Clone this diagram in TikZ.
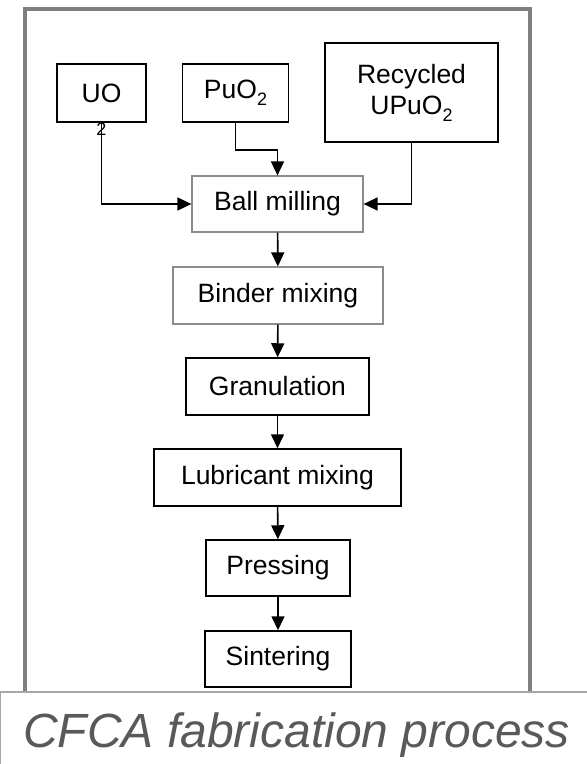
\documentclass[tikz,border=0pt]{standalone}
\usepackage{fontspec}
\setmainfont{Liberation Sans}
\usepackage{tikz}
\usetikzlibrary{arrows.meta,positioning}
\definecolor{Frame}{HTML}{808080}
\definecolor{SoftRule}{HTML}{8C8C8C}
\definecolor{CapRule}{HTML}{A6A6A6}
\definecolor{CapText}{HTML}{595959}
\newcommand{\lowtwo}{\raisebox{-7pt}{\fontsize{18}{18}\selectfont 2}}
\tikzset{
  procbox/.style={draw=black,line width=1.5pt,fill=white,inner sep=0pt,
    font=\fontsize{26.5}{31}\selectfont,align=center},
  softbox/.style={procbox,draw=SoftRule,line width=1.2pt},
  flow/.style={line width=1.6pt,-{Triangle[length=14pt,width=13pt]}}
}

\begin{document}
\begin{tikzpicture}[x=1pt,y=-1pt]
    \useasboundingbox (0,0) rectangle (587,764);
    \draw[Frame,line width=4pt] (25,9) rectangle (530,730);

    % raw materials
    \node[procbox,minimum width=89pt,minimum height=58pt,
      label={[font=\fontsize{18}{18}\selectfont,inner sep=0pt]below:2}]
      (uo) at (101.5,93) {UO};
    \node[procbox,minimum width=106pt,minimum height=58pt]
      (puo) at (235.5,93) {PuO\lowtwo};
    \node[procbox,minimum width=173pt,minimum height=99pt]
      (rec) at (411.5,92.5) {Recycled\\UPuO\lowtwo};

    % process chain
    \node[softbox,minimum width=171pt,minimum height=56pt]
      (ball) at (277.5,204) {Ball milling};
    \node[softbox,minimum width=210pt,minimum height=57pt]
      (binder) at (278,295.5) {Binder mixing};
    \node[procbox,minimum width=183pt,minimum height=57pt]
      (gran) at (277.5,386.5) {Granulation};
    \node[procbox,minimum width=247pt,minimum height=57pt]
      (lub) at (277.5,477.5) {Lubricant mixing};
    \node[procbox,minimum width=144pt,minimum height=56pt]
      (press) at (278,568) {Pressing};
    \node[procbox,minimum width=146pt,minimum height=56pt]
      (sint) at (278,659) {Sintering};

    \draw[flow] (uo.south) |- (ball.west);
    \draw[flow] (puo.south) -- ++(0,27) -| (ball.north);
    \draw[flow] (rec.south) |- (ball.east);
    \draw[flow] (ball) -- (binder);
    \draw[flow] (binder) -- (gran);
    \draw[flow] (gran) -- (lub);
    \draw[flow] (lub) -- (press);
    \draw[flow] (press) -- (sint);

    % caption strip
    \draw[CapRule,line width=1.2pt,fill=white] (0.6,692) rectangle (600,800);
    \node[anchor=base west,inner sep=0pt,text=CapText,
      font=\fontsize{48}{48}\selectfont\itshape] (cap) at (23,747)
      {CFCA fabrication process};
  \end{tikzpicture}
\end{document}
